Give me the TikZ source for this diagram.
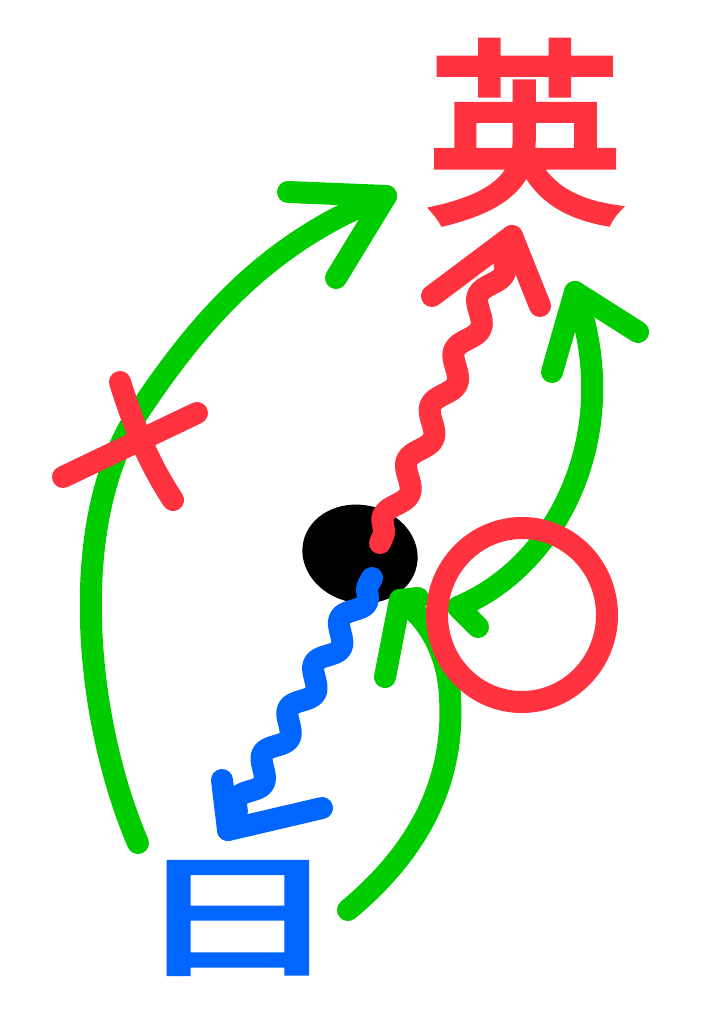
\documentclass[tikz,border=0pt]{standalone}
\usepackage{fontspec}
\newfontfamily\cjk[FakeBold=4]{Noto Sans CJK SC}
\usetikzlibrary{decorations.pathmorphing,shapes.geometric}
\definecolor{pred}{RGB}{255,51,64}
\definecolor{pgreen}{RGB}{0,204,0}
\definecolor{pblue}{RGB}{0,102,255}
\begin{document}
\begin{tikzpicture}[x=1pt,y=-1pt,
  pen/.style={line width=22pt,line cap=round,line join=round},
  wave/.style={pen,decorate,decoration={snake,segment length=#1,amplitude=8pt,pre length=8pt,post length=12pt}},
  glyph/.style={inner sep=0pt,font=\cjk\fontsize{#1}{#1}\selectfont}]
\useasboundingbox (0,0) rectangle (704,1024);
\fill[white] (0,0) rectangle (704,1024);

% text glyphs
\node[glyph=196,text=pred] (en) at (525,132) {英};
\node[glyph=132,text=pblue] (ri) at (237,918) {\scalebox{1.55}[1]{日}};

% black blob
\node[ellipse,fill=black,minimum width=116pt,minimum height=98pt,inner sep=0pt,rotate=-12] (blob) at (360,554) {};
\coordinate (rstart) at (380,543);
\coordinate (rtip) at (512,236);
\coordinate (bstart) at (372,578);
\coordinate (btip) at (228,830);

% left green arrow (crossed out)
\coordinate (g1tail) at (138,843);
\coordinate (g1tip) at (386,196);
\draw[pen,pgreen] (g1tail) .. controls (85,720) and (65,520) .. (140,410)
   .. controls (200,320) and (270,240) .. (g1tip);
\draw[pen,pgreen] (288,192) -- (g1tip) -- (336,278);
\draw[pen,pred] (63,477) -- (197,413);
\draw[pen,pred] (120,382) .. controls (135,430) and (150,465) .. (173,500);

% right top green arrow
\coordinate (g2tail) at (478,627);
\coordinate (g2tip) at (575,292);
\draw[pen,pgreen] (g2tail) -- (458,607) .. controls (560,565) and (625,430) .. (g2tip);
\draw[pen,pgreen] (552,372) -- (g2tip) -- (638,332);

% bottom green arrow
\coordinate (g3tail) at (348,910);
\coordinate (g3tip) at (400,600);
\draw[pen,pgreen] (g3tail) .. controls (420,850) and (455,780) .. (450,697)
   .. controls (448,650) and (425,615) .. (g3tip);
\draw[pen,pgreen] (385,677) -- (g3tip) -- (418,598);

% red circle
\node[draw=pred,line width=22pt,ellipse,minimum width=170pt,minimum height=174pt,inner sep=0pt] (circ) at (522,615) {};

% wavy arrows
\draw[wave=60pt,pred] (rstart) -- (rtip);
\draw[pen,pred] (432,296) -- (rtip) -- (540,306);
\draw[wave=52pt,pblue] (bstart) -- (btip);
\draw[pen,pblue] (222,780) -- (btip) -- (322,808);
\end{tikzpicture}
\end{document}
